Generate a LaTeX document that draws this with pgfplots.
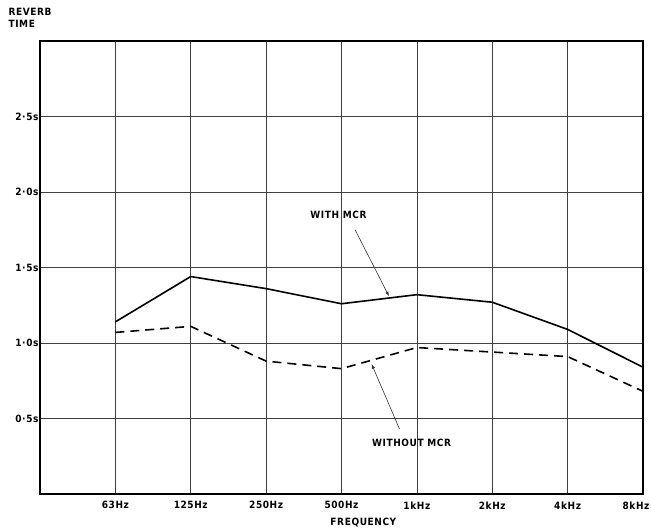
\documentclass[border=0pt]{standalone}
\usepackage{fontspec}
\setmainfont{DejaVu Sans Condensed}[LetterSpace=6]
\usepackage{pgfplots}
\pgfplotsset{compat=1.18}
\begin{document}
\begin{tikzpicture}
\begin{axis}[
    scale only axis,
    width=603pt, height=453pt,
    xmin=0, xmax=8,
    ymin=0, ymax=3,
    xtick={1,2,3,4,5,6,7,8},
    xticklabels={63Hz,125Hz,250Hz,500Hz,1kHz,2kHz,4kHz,\makebox[0pt]{\hspace*{-14pt}8kHz}},
    ytick={0.5,1,1.5,2,2.5},
    yticklabels={0·5s,1·0s,1·5s,2·0s,2·5s},
    major tick length=0pt,
    grid=major,
    grid style={black!75, line width=0.7pt},
    axis line style={black, line width=1.6pt},
    tick label style={font=\bfseries\fontsize{10}{12}\selectfont},
    xticklabel style={yshift=-4pt},
    yticklabel style={xshift=2pt},
    clip=false,
]
% with MCR
\addplot[black, line width=1.6pt] coordinates {
    (1,1.14) (2,1.44) (3,1.36) (4,1.26) (5,1.32) (6,1.27) (7,1.09) (8,0.84)
};
% without MCR
\addplot[black, line width=1.6pt, dash pattern=on 9pt off 6pt] coordinates {
    (1,1.07) (2,1.11) (3,0.88) (4,0.83) (5,0.97) (6,0.94) (7,0.91) (8,0.68)
};
\node[font=\bfseries\fontsize{10}{12}\selectfont] at (axis cs:3.96,1.85) {WITH MCR};
\draw[-latex, black!80, line width=0.6pt] (axis cs:4.18,1.75) -- (axis cs:4.63,1.31);
\node[font=\bfseries\fontsize{10}{12}\selectfont] at (axis cs:4.93,0.34) {WITHOUT MCR};
\draw[-latex, black!80, line width=0.6pt] (axis cs:4.77,0.43) -- (axis cs:4.40,0.86);
\node[font=\bfseries\fontsize{10}{12}\selectfont, anchor=north west, align=left, inner sep=0pt]
    at (axis cs:-0.42,3.22) {REVERB\\TIME};
\node[font=\bfseries\fontsize{10}{12}\selectfont] at (axis cs:4.29,-0.19) {FREQUENCY};
\end{axis}
\path (-40pt,-36pt) rectangle (611pt,494pt);
\end{tikzpicture}
\end{document}
